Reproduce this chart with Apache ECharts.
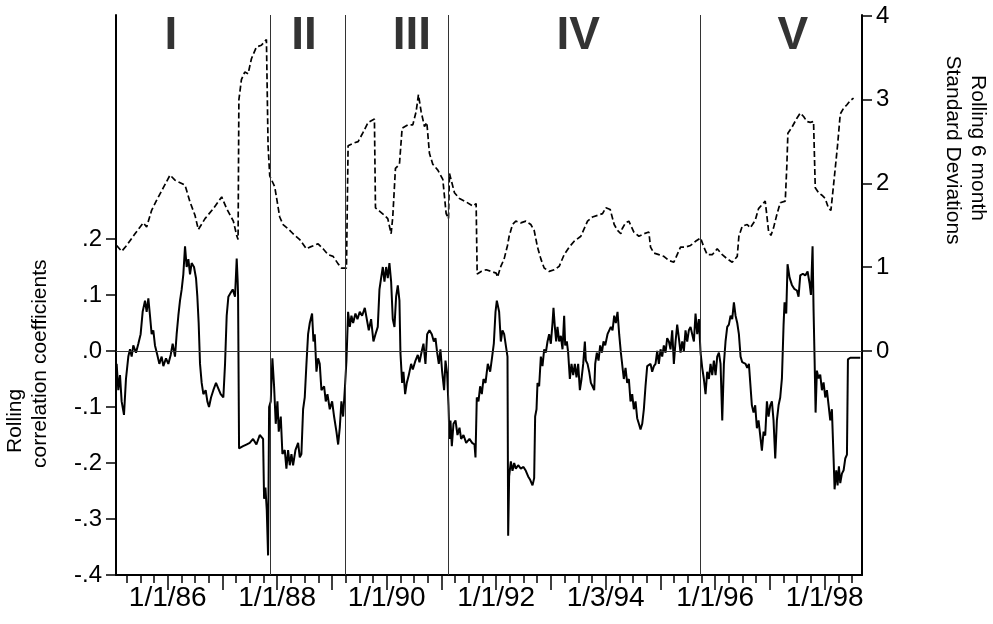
<!DOCTYPE html>
<html><head><meta charset="utf-8">
<script src="https://cdn.jsdelivr.net/npm/echarts@6/dist/echarts.min.js"></script>
<style>html,body{margin:0;padding:0;background:#fff}#c{width:993px;height:624px}</style>
</head><body><div id="c"></div>
<script>
// Rolling 6 month standard deviations (right axis), decimal years
const stdT = [1985.067,1985.158,1985.250,1985.402,1985.554,1985.615,1985.706,1985.798,1985.920,1986.042,1986.133,1986.316,1986.407,1986.498,1986.559,1986.681,1986.833,1986.986,1987.077,1987.199,1987.260,1987.285,1987.300,1987.346,1987.407,1987.468,1987.529,1987.620,1987.711,1987.803,1987.821,1987.833,1987.864,1987.955,1988.046,1988.107,1988.199,1988.290,1988.412,1988.534,1988.595,1988.747,1988.838,1988.930,1989.021,1989.113,1989.173,1989.265,1989.283,1989.295,1989.387,1989.478,1989.569,1989.661,1989.776,1989.795,1989.868,1989.959,1990.020,1990.081,1990.111,1990.160,1990.233,1990.282,1990.385,1990.477,1990.538,1990.580,1990.629,1990.690,1990.733,1990.781,1990.842,1990.934,1991.025,1991.086,1991.129,1991.147,1991.238,1991.330,1991.452,1991.573,1991.634,1991.653,1991.726,1991.817,1991.908,1992.000,1992.024,1992.085,1992.146,1992.207,1992.237,1992.298,1992.359,1992.450,1992.542,1992.633,1992.694,1992.755,1992.816,1992.877,1992.968,1993.060,1993.151,1993.242,1993.334,1993.425,1993.547,1993.608,1993.669,1993.760,1993.851,1993.943,1994.004,1994.083,1994.156,1994.217,1994.278,1994.302,1994.363,1994.424,1994.515,1994.607,1994.698,1994.789,1994.820,1994.881,1994.972,1995.063,1995.155,1995.246,1995.307,1995.368,1995.459,1995.551,1995.642,1995.734,1995.794,1995.855,1995.947,1996.038,1996.130,1996.221,1996.312,1996.404,1996.434,1996.495,1996.586,1996.641,1996.732,1996.793,1996.915,1996.946,1996.976,1997.019,1997.067,1997.128,1997.189,1997.281,1997.311,1997.329,1997.402,1997.494,1997.555,1997.616,1997.677,1997.738,1997.798,1997.829,1997.890,1997.951,1998.012,1998.073,1998.115,1998.152,1998.194,1998.237,1998.286,1998.347,1998.408,1998.469,1998.529];
const stdV = [1.26,1.19,1.26,1.40,1.53,1.48,1.68,1.80,1.95,2.10,2.04,1.98,1.78,1.62,1.45,1.58,1.70,1.84,1.70,1.55,1.38,1.33,3.00,3.24,3.33,3.31,3.49,3.63,3.65,3.72,3.70,2.45,2.09,1.96,1.60,1.51,1.46,1.40,1.33,1.22,1.24,1.28,1.22,1.15,1.13,1.04,0.99,0.99,1.00,2.45,2.48,2.50,2.61,2.73,2.77,1.71,1.67,1.62,1.58,1.40,1.60,2.18,2.23,2.66,2.70,2.70,2.86,3.06,2.86,2.68,2.73,2.36,2.23,2.16,2.05,1.64,1.58,2.12,1.89,1.82,1.78,1.73,1.76,0.92,0.95,0.97,0.95,0.93,0.88,1.01,1.10,1.26,1.37,1.51,1.55,1.53,1.55,1.51,1.44,1.24,1.10,0.99,0.95,0.97,1.01,1.15,1.24,1.31,1.37,1.46,1.55,1.60,1.62,1.64,1.71,1.69,1.51,1.44,1.40,1.46,1.53,1.55,1.42,1.37,1.40,1.42,1.24,1.17,1.15,1.13,1.08,1.06,1.15,1.24,1.24,1.26,1.31,1.35,1.24,1.15,1.15,1.22,1.15,1.10,1.06,1.13,1.37,1.49,1.51,1.47,1.56,1.70,1.79,1.61,1.43,1.38,1.47,1.63,1.77,1.79,2.23,2.60,2.67,2.78,2.84,2.80,2.74,2.73,2.74,1.95,1.89,1.86,1.82,1.70,1.68,1.91,2.18,2.46,2.83,2.90,2.94,2.99,3.02];

// Rolling correlation coefficients (left axis), decimal years
const corrT = [1985.067,1985.097,1985.128,1985.158,1985.201,1985.237,1985.280,1985.311,1985.341,1985.371,1985.420,1985.463,1985.505,1985.542,1985.585,1985.615,1985.646,1985.676,1985.706,1985.737,1985.767,1985.810,1985.847,1985.889,1985.920,1985.968,1986.011,1986.054,1986.090,1986.133,1986.163,1986.194,1986.224,1986.255,1986.285,1986.316,1986.346,1986.377,1986.407,1986.437,1986.480,1986.517,1986.541,1986.565,1986.590,1986.620,1986.651,1986.693,1986.724,1986.754,1986.791,1986.833,1986.882,1986.925,1986.967,1987.016,1987.047,1987.077,1987.108,1987.150,1987.187,1987.229,1987.260,1987.278,
1987.285,1987.303,1987.376,1987.437,1987.498,1987.559,1987.620,1987.681,1987.742,1987.760,1987.785,1987.809,1987.833,1987.852,1987.882,1987.912,1987.943,1987.973,1988.004,1988.028,1988.065,1988.095,1988.138,1988.168,1988.199,1988.229,1988.260,1988.290,1988.333,1988.382,1988.412,1988.442,1988.473,1988.503,1988.534,1988.564,1988.595,1988.637,1988.662,1988.686,1988.717,1988.747,1988.777,1988.808,1988.857,1988.887,1988.918,1988.960,1989.003,1989.039,1989.082,1989.113,1989.143,1989.173,1989.204,1989.234,1989.265,1989.295,1989.326,1989.356,1989.387,1989.429,1989.466,1989.508,1989.551,1989.600,
1989.673,1989.715,1989.758,1989.795,1989.837,1989.868,1989.898,1989.929,1989.959,1989.990,1990.020,1990.050,1990.081,1990.111,1990.142,1990.172,1990.203,1990.233,1990.251,1990.282,1990.306,1990.337,1990.367,1990.404,1990.446,1990.477,1990.526,1990.568,1990.599,1990.641,1990.672,1990.708,1990.739,1990.781,1990.824,1990.861,1990.891,1990.922,1990.952,1990.982,1991.013,1991.049,1991.074,1991.104,1991.129,1991.147,1991.165,1991.190,1991.220,1991.257,1991.293,1991.330,1991.360,1991.403,1991.452,1991.512,1991.561,1991.604,1991.622,1991.646,1991.677,1991.707,1991.738,1991.768,1991.805,1991.847,1991.890,1991.927,1991.957,1991.988,
1992.012,1992.054,1992.085,1992.115,1992.146,1992.176,1992.207,1992.219,1992.237,1992.268,1992.298,1992.329,1992.359,1992.402,1992.450,1992.499,1992.542,1992.584,1992.621,1992.664,1992.694,1992.712,1992.737,1992.755,1992.785,1992.816,1992.846,1992.877,1992.907,1992.938,1992.968,1992.999,1993.029,1993.047,1993.072,1993.096,1993.120,1993.151,1993.181,1993.212,1993.242,1993.261,1993.291,1993.315,1993.346,1993.376,1993.407,1993.437,1993.468,1993.498,1993.529,1993.559,1993.590,1993.620,1993.638,1993.669,1993.699,1993.730,1993.760,1993.791,1993.809,1993.839,1993.870,1993.900,1993.931,1993.961,1993.992,1994.034,1994.065,1994.095,1994.126,1994.156,1994.186,1994.217,1994.247,1994.278,
1994.302,1994.332,1994.363,1994.393,1994.424,1994.454,1994.485,1994.515,1994.546,1994.576,1994.607,1994.637,1994.668,1994.698,1994.728,1994.759,1994.789,1994.820,1994.850,1994.881,1994.911,1994.942,1994.972,1995.003,1995.033,1995.063,1995.094,1995.124,1995.155,1995.185,1995.216,1995.246,1995.277,1995.307,1995.338,1995.368,1995.399,1995.429,1995.459,1995.490,1995.520,1995.551,1995.581,1995.612,1995.642,1995.673,1995.703,1995.734,1995.764,1995.794,1995.825,1995.855,1995.886,1995.916,1995.947,1995.977,1996.008,1996.038,1996.069,1996.099,1996.130,1996.160,1996.190,1996.221,1996.251,1996.282,1996.312,1996.343,1996.373,1996.404,1996.434,1996.465,1996.495,1996.556,1996.586,1996.617,
1996.641,1996.671,1996.702,1996.732,1996.763,1996.793,1996.824,1996.854,1996.885,1996.915,1996.946,1996.976,1997.007,1997.037,1997.067,1997.098,1997.128,1997.159,1997.189,1997.220,1997.250,1997.268,1997.299,1997.323,1997.360,1997.402,1997.445,1997.494,1997.524,1997.555,1997.603,1997.646,1997.689,1997.725,1997.750,1997.780,1997.798,1997.817,1997.835,1997.859,1997.890,1997.920,1997.951,1997.981,1998.012,1998.042,1998.073,1998.103,1998.133,1998.164,1998.182,1998.213,1998.237,1998.261,1998.286,1998.316,1998.347,1998.377,1998.408,1998.426,1998.469,1998.560,1998.651];
const corrV = [-0.023,-0.07,-0.043,-0.09,-0.114,-0.05,-0.01,0.003,-0.01,0.01,-0.003,0.013,0.03,0.07,0.09,0.07,0.094,0.063,0.03,0.037,0.01,-0.007,-0.023,-0.01,-0.027,-0.013,-0.023,-0.007,0.013,-0.01,0.03,0.063,0.09,0.11,0.137,0.187,0.15,0.164,0.137,0.157,0.15,0.13,0.097,0.05,-0.023,-0.057,-0.077,-0.07,-0.09,-0.10,-0.083,-0.07,-0.057,-0.067,-0.077,-0.083,-0.023,0.063,0.097,0.104,0.11,0.097,0.165,0.124,
0.10,-0.174,-0.17,-0.167,-0.164,-0.157,-0.167,-0.15,-0.157,-0.264,-0.244,-0.284,-0.365,-0.10,-0.09,-0.013,-0.063,-0.13,-0.09,-0.144,-0.117,-0.184,-0.177,-0.21,-0.177,-0.204,-0.184,-0.204,-0.177,-0.164,-0.19,-0.184,-0.104,-0.083,-0.023,0.03,0.05,0.067,0.017,0.03,-0.037,-0.013,-0.023,-0.07,-0.063,-0.09,-0.077,-0.104,-0.09,-0.117,-0.144,-0.167,-0.137,-0.09,-0.117,-0.07,-0.017,0.07,0.043,0.063,0.05,0.067,0.057,0.07,0.063,0.077,
0.037,0.057,0.017,0.03,0.043,0.11,0.13,0.15,0.124,0.15,0.13,0.157,0.124,0.057,0.043,0.097,0.117,0.09,-0.003,-0.057,-0.037,-0.077,-0.057,-0.043,-0.023,-0.033,-0.017,-0.007,-0.02,0,0.013,-0.023,0.03,0.037,0.03,0.017,0.023,-0.003,-0.023,0.003,-0.037,-0.07,-0.017,-0.04,-0.097,-0.157,-0.124,-0.17,-0.13,-0.124,-0.15,-0.137,-0.157,-0.15,-0.164,-0.157,-0.164,-0.167,-0.19,-0.083,-0.09,-0.063,-0.077,-0.05,-0.057,-0.023,-0.037,-0.01,0.013,0.07,
0.09,0.07,0.017,0.037,0.03,0.01,-0.01,-0.33,-0.224,-0.197,-0.214,-0.20,-0.21,-0.204,-0.21,-0.207,-0.214,-0.224,-0.23,-0.24,-0.227,-0.117,-0.104,-0.057,-0.063,-0.01,-0.027,0.003,-0.003,0.017,0.03,0.013,0.05,0.077,0.043,0.017,0.043,0.017,0.027,0.003,0.063,0.01,0.017,-0.003,-0.05,-0.023,-0.043,-0.023,-0.047,-0.023,-0.07,-0.05,-0.023,0.017,-0.017,-0.023,-0.037,-0.057,-0.063,-0.07,-0.023,-0.003,-0.017,0.01,-0.003,0.017,0.01,0.03,0.027,0.043,0.037,0.063,0.05,0.07,0.03,-0.003,
0,-0.05,-0.03,-0.057,-0.05,-0.09,-0.077,-0.104,-0.09,-0.12,-0.13,-0.14,-0.13,-0.104,-0.063,-0.027,-0.03,-0.023,-0.037,-0.027,-0.023,0,-0.023,0.003,-0.01,0.01,-0.003,0.023,0.017,0.003,0.037,-0.023,0.017,0.047,0.023,-0.003,0.017,0,0.037,0.017,0.037,0.043,0.03,0.017,0.067,0.03,0.057,-0.003,-0.03,-0.05,-0.077,-0.037,-0.05,-0.023,-0.043,-0.017,-0.043,-0.01,-0.003,-0.023,-0.124,-0.023,0.017,0.043,0.047,0.063,0.057,0.087,0.063,0.05,0.03,-0.01,-0.02,-0.023,-0.03,-0.023,
-0.025,-0.097,-0.11,-0.097,-0.138,-0.124,-0.151,-0.178,-0.144,-0.151,-0.09,-0.117,-0.097,-0.09,-0.124,-0.192,-0.124,-0.097,-0.083,-0.049,0.046,0.087,0.067,0.155,0.131,0.118,0.111,0.108,0.097,0.135,0.138,0.135,0.142,0.121,0.10,0.187,0.074,-0.015,-0.11,-0.035,-0.049,-0.042,-0.07,-0.056,-0.083,-0.07,-0.097,-0.124,-0.104,-0.192,-0.247,-0.213,-0.24,-0.206,-0.236,-0.219,-0.213,-0.192,-0.185,-0.015,-0.012,-0.012,-0.012];

const periodBounds = [1987.869, 1989.245, 1991.128, 1995.733];
const periodNames = ['I', 'II', 'III', 'IV', 'V'];
const periodLabelT = [1986.06, 1988.49, 1990.46, 1993.50, 1997.42];
const periodLabelY = 0.5625;
const xTickYears = [1986,1987,1988,1989,1990,1991,1992,1993,1994,1995,1996,1997,1998];
const xLabelYears = [1986,1988,1990,1992,1994,1996,1998];
const xLabelText = ['1/1/86','1/1/88','1/1/90','1/1/92','1/3/94','1/1/96','1/1/98'];
const corrTicks = [-0.4,-0.3,-0.2,-0.1,0,0.1,0.2];
const stdTicks = [0,1,2,3,4];
const xMin = 1985.055, xMax = 1998.683;

const quarterTicks = [];
for (let y = 1985; y <= 1999; y++) {
  [0.25, 0.5, 0.75].forEach(q => { const v = y + q; if (v > xMin && v < xMax) quarterTicks.push(v); });
}

const FONT = 'Liberation Sans';
const chart = echarts.init(document.getElementById('c'), null, {renderer: 'canvas'});
const fmtCorr = v => {
  if (Math.abs(v) < 1e-9) return '.0';
  return (v < 0 ? '-' : '') + Math.abs(v).toFixed(1).replace(/^0/, '');
};

chart.setOption({
  animation: false,
  backgroundColor: '#fff',
  textStyle: {fontFamily: FONT, color: '#000'},
  grid: {left: 116, right: 131, top: 15, bottom: 49, containLabel: false},
  xAxis: [{
    type: 'value', min: xMin, max: xMax, position: 'bottom',
    axisLine: {show: true, onZero: false, lineStyle: {color: '#000', width: 2}},
    axisTick: {show: true, customValues: xTickYears, length: 15, lineStyle: {color: '#000', width: 1.5}},
    axisLabel: {show: true, customValues: xLabelYears, margin: 9, fontSize: 28, fontFamily: FONT, color: '#000',
      formatter: v => { const i = xLabelYears.indexOf(Math.round(v)); return i >= 0 ? xLabelText[i] : ''; }},
    splitLine: {show: false}
  }, {
    type: 'value', min: xMin, max: xMax, position: 'bottom', offset: 0,
    axisLine: {show: false, onZero: false},
    axisTick: {show: true, customValues: quarterTicks, length: 8, lineStyle: {color: '#000', width: 1.5}},
    axisLabel: {show: false},
    splitLine: {show: false}
  }],
  yAxis: [{
    type: 'value', min: -0.4, max: 0.6, interval: 0.1, position: 'left',
    axisLine: {show: true, onZero: false, lineStyle: {color: '#000', width: 2}},
    axisTick: {show: true, customValues: corrTicks, length: 10, lineStyle: {color: '#000', width: 1.5}},
    axisLabel: {show: true, customValues: corrTicks, margin: 14, fontSize: 24, fontFamily: FONT, color: '#000', formatter: fmtCorr},
    splitLine: {show: false}
  }, {
    type: 'value', min: -2.675, max: 4.012, position: 'right',
    axisLine: {show: true, onZero: false, lineStyle: {color: '#000', width: 2}},
    axisTick: {show: true, customValues: stdTicks, length: 10, lineStyle: {color: '#000', width: 1.5}},
    axisLabel: {show: true, customValues: stdTicks, margin: 14, fontSize: 24, fontFamily: FONT, color: '#000', formatter: v => String(Math.round(v))},
    splitLine: {show: false}
  }],
  series: [{
    name: 'corr', type: 'line', xAxisIndex: 0, yAxisIndex: 0,
    data: corrT.map((t, i) => [t, corrV[i]]),
    showSymbol: false, symbol: 'none', smooth: false,
    lineStyle: {color: '#000', width: 2}, z: 3,
    markLine: {
      silent: true, symbol: 'none', label: {show: false},
      lineStyle: {color: '#333', width: 1, type: 'solid'},
      data: [{yAxis: 0}].concat(periodBounds.map(b => ({xAxis: b})))
    }
  }, {
    name: 'std', type: 'line', xAxisIndex: 0, yAxisIndex: 1,
    data: stdT.map((t, i) => [t, stdV[i]]),
    showSymbol: false, symbol: 'none', smooth: false,
    lineStyle: {color: '#000', width: 1.7, type: [6, 3]}, z: 3
  }, {
    name: 'periods', type: 'scatter', xAxisIndex: 0, yAxisIndex: 0,
    symbolSize: 0, silent: true,
    data: periodLabelT.map((t, i) => [t, periodLabelY, periodNames[i]]),
    label: {show: true, position: 'inside', formatter: p => p.data[2], fontSize: 46, fontWeight: 'bold', fontFamily: FONT, color: '#000'}
  }],
  graphic: [
    {type: 'text', x: 15, y: 453, rotation: Math.PI / 2,
      style: {text: 'Rolling', fontSize: 21, fontFamily: FONT, fill: '#000', align: 'left', verticalAlign: 'middle', textAlign: 'left', textVerticalAlign: 'middle'}},
    {type: 'text', x: 40, y: 468, rotation: Math.PI / 2,
      style: {text: 'correlation coefficients', fontSize: 21, fontFamily: FONT, fill: '#000', align: 'left', verticalAlign: 'middle', textAlign: 'left', textVerticalAlign: 'middle'}},
    {type: 'text', x: 978, y: 148, rotation: -Math.PI / 2,
      style: {text: 'Rolling 6 month', fontSize: 21, fontFamily: FONT, fill: '#000', align: 'center', verticalAlign: 'middle', textAlign: 'center', textVerticalAlign: 'middle'}},
    {type: 'text', x: 953, y: 150, rotation: -Math.PI / 2,
      style: {text: 'Standard Deviations', fontSize: 21, fontFamily: FONT, fill: '#000', align: 'center', verticalAlign: 'middle', textAlign: 'center', textVerticalAlign: 'middle'}}
  ]
});
</script></body></html>
